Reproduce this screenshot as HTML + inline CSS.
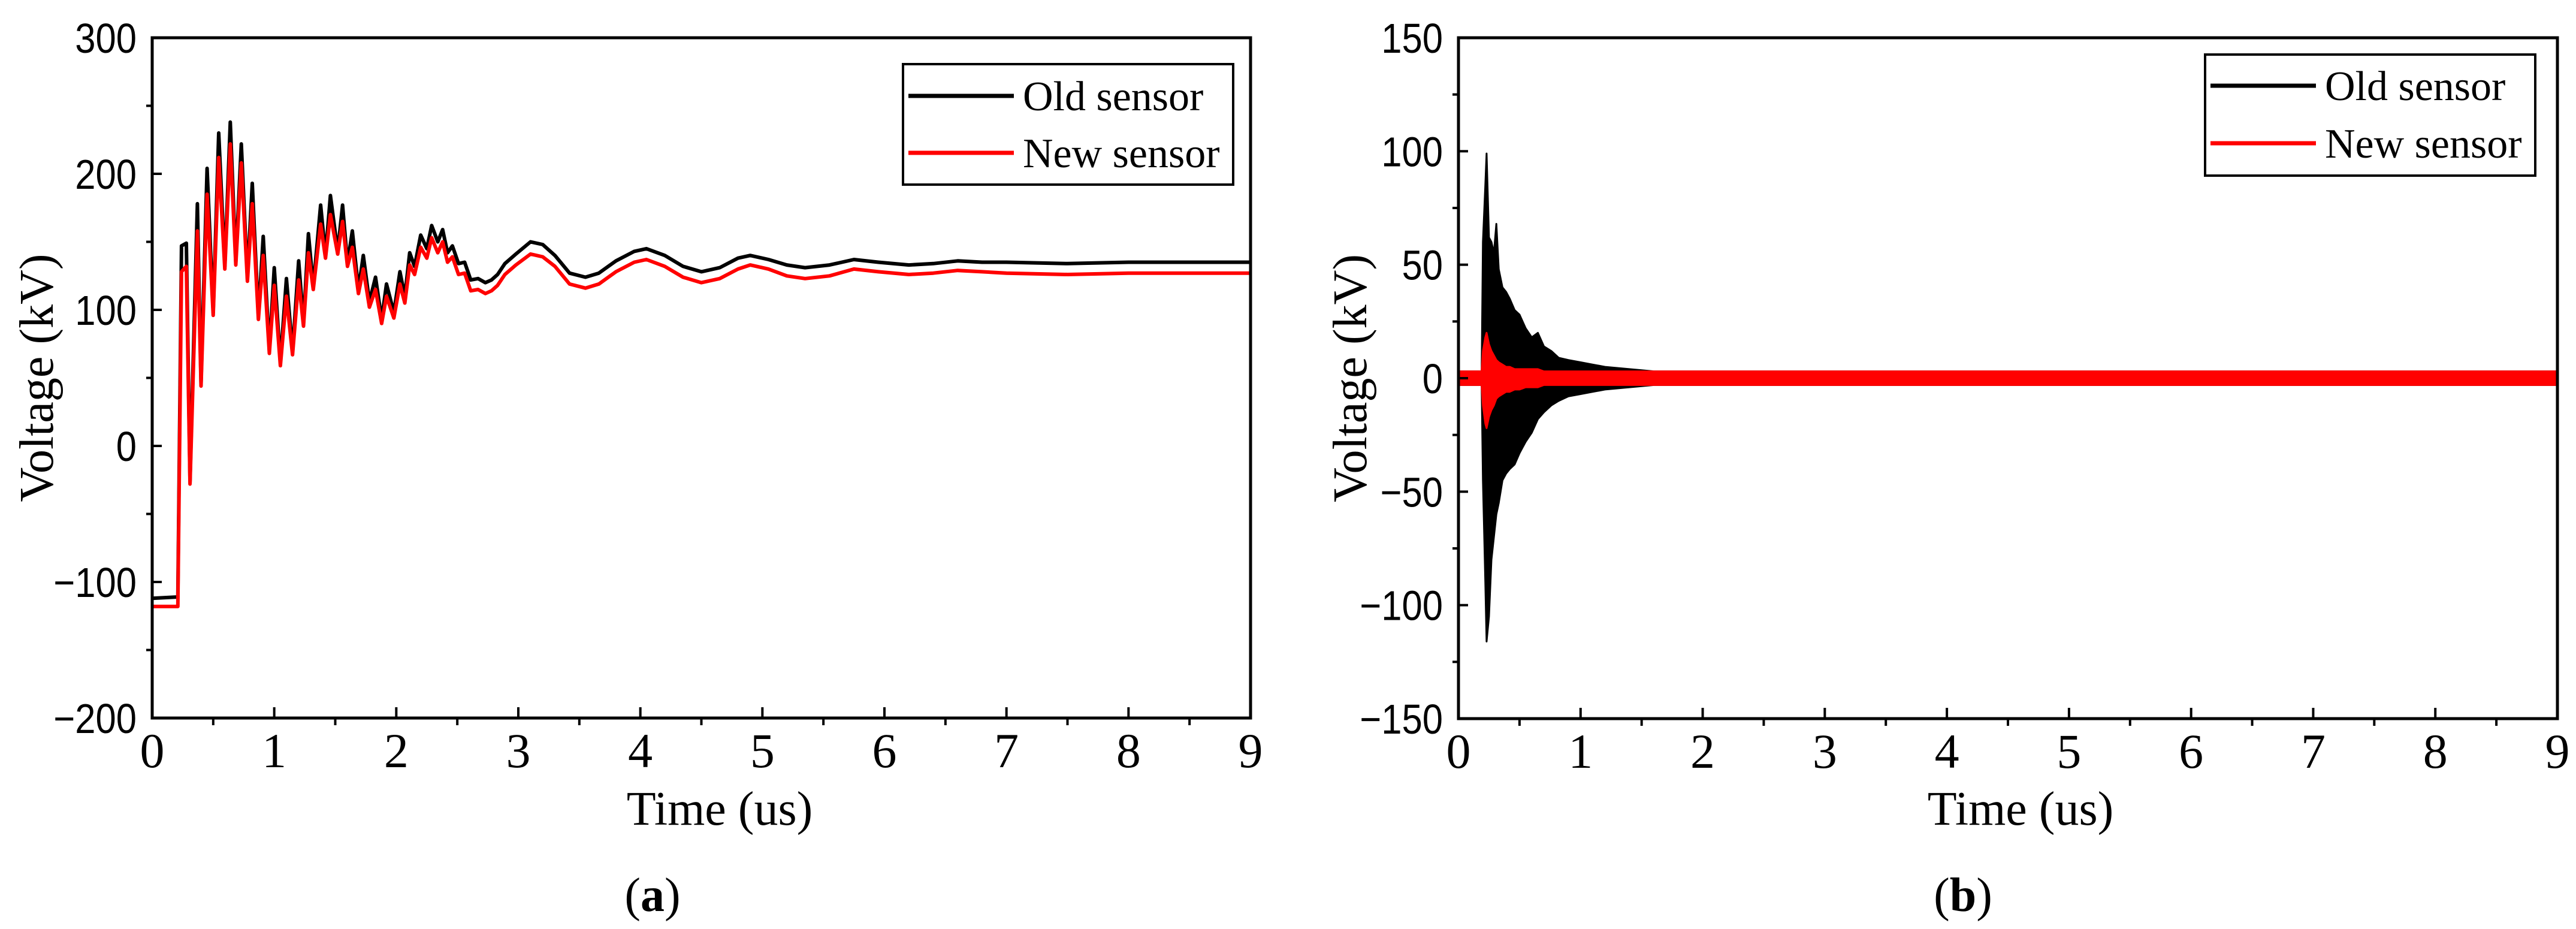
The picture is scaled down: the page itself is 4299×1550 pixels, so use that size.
<!DOCTYPE html>
<html><head><meta charset="utf-8"><style>
html,body{margin:0;padding:0;background:#fff;}
svg{display:block;}
.serif{font-family:"Liberation Serif",serif;}
.sans{font-family:"Liberation Sans",sans-serif;}
</style></head><body>
<svg id="fig" width="4299" height="1550" viewBox="0 0 4299 1550" xmlns="http://www.w3.org/2000/svg"></svg>
<script>
// ---- Panel (a) data ----
const timeA = [0,0.21,0.24,0.28,0.31,0.37,0.40,0.45,0.50,0.545,0.595,0.64,0.685,0.73,0.78,0.82,0.87,0.91,0.96,1.0,1.05,1.10,1.15,1.20,1.24,1.28,1.32,1.38,1.42,1.46,1.52,1.56,1.60,1.64,1.69,1.73,1.78,1.83,1.88,1.92,1.98,2.03,2.07,2.11,2.15,2.2,2.25,2.29,2.34,2.38,2.42,2.46,2.51,2.56,2.61,2.67,2.73,2.78,2.83,2.89,2.98,3.1,3.2,3.3,3.42,3.55,3.66,3.8,3.95,4.05,4.2,4.35,4.5,4.65,4.8,4.9,5.05,5.2,5.35,5.55,5.75,5.95,6.2,6.4,6.6,6.8,7.0,7.5,8.0,8.5,9.0];
const oldA = [-112,-111,147,149,-26,178,46,204,98,230,132,238,135,222,123,193,95,154,70,131,61,123,69,136,90,156,117,177,140,184,143,177,134,158,115,140,106,124,93,119,98,128,110,142,132,155,145,162,150,159,142,147,134,135,122,123,120,122,126,134,141,150,148,140,127,124,127,136,143,145,140,132,128,131,138,140,137,133,131,133,137,135,133,134,136,135,135,134,135,135,135];
const newA = [-118,-118,128,132,-28,158,44,185,96,212,130,222,133,208,121,178,93,140,68,118,59,110,67,122,88,142,115,163,138,170,141,165,132,146,112,130,102,115,90,110,94,119,105,133,126,146,138,153,142,150,135,139,126,127,114,115,112,114,118,126,133,141,139,132,119,116,119,128,135,137,132,124,120,123,130,133,130,125,123,125,130,128,126,127,129,128,127,126,127,127,127];
const xTicksA = [0,1,2,3,4,5,6,7,8,9];
const yTicksA = [-200,-100,0,100,200,300];
const yTickLabelsA = ["\u2212200","\u2212100","0","100","200","300"];

// ---- Panel (b) data (envelopes of the oscillation) ----
const timeB = [0,0.19,0.2,0.22,0.23,0.25,0.27,0.29,0.31,0.33,0.36,0.39,0.42,0.46,0.5,0.55,0.6,0.65,0.7,0.76,0.82,0.9,1.0,1.1,1.2,1.4,1.6,2,3,4,5,6,7,8,9];
const oldUpB = [3,3,60,85,99,62,60,55,68,48,40,38,35,30,28,22,18,20,14,12,9,8,7,6,5,4,3,3,3,3,3,3,3,3,3];
const oldLoB = [-3,-3,-45,-90,-116,-105,-80,-70,-60,-55,-45,-42,-40,-38,-33,-28,-24,-18,-15,-12,-10,-8,-7,-6,-5,-4,-3,-3,-3,-3,-3,-3,-3,-3,-3];
const newUpB = [3,3,12,18,20,15,12,10,8,7,6,5,5,4,4,4,4,4,3,3,3,3,3,3,3,3,3,3,3,3,3,3,3,3,3];
const newLoB = [-3,-3,-12,-20,-22,-17,-14,-12,-9,-8,-7,-6,-6,-5,-5,-4,-4,-4,-3,-3,-3,-3,-3,-3,-3,-3,-3,-3,-3,-3,-3,-3,-3,-3,-3];
const xTicksB = [0,1,2,3,4,5,6,7,8,9];
const yTicksB = [-150,-100,-50,0,50,100,150];
const yTickLabelsB = ["\u2212150","\u2212100","\u221250","0","50","100","150"];

const NS = "http://www.w3.org/2000/svg";
const svg = document.getElementById('fig');
function mk(tag, attrs, parent){
  const e = document.createElementNS(NS, tag);
  for (const k in attrs) e.setAttribute(k, attrs[k]);
  (parent||svg).appendChild(e);
  return e;
}

function panel(cfg){
  const g = mk('g', {});
  
  
  const X = t => cfg.L + (t - cfg.xmin) / (cfg.xmax - cfg.xmin) * (cfg.R - cfg.L);
  const Y = v => cfg.B - (v - cfg.ymin) / (cfg.ymax - cfg.ymin) * (cfg.B - cfg.T);
  cfg.draw(g, X, Y);
  const fr = mk('rect', {x:cfg.L, y:cfg.T, width:cfg.R-cfg.L, height:cfg.B-cfg.T, fill:'none', stroke:'#000', 'stroke-width':5}, g);
  
  
  cfg.xTicks.forEach((t, i) => {
    const x = X(t);
    const tk = mk('line', {x1:x, x2:x, y1:cfg.B, y2:cfg.B-18, stroke:'#000', 'stroke-width':4}, g);
    
    
    if (i < cfg.xTicks.length - 1) {
      const xm = X(t + 0.5);
      mk('line', {x1:xm, x2:xm, y1:cfg.B, y2:cfg.B+12, stroke:'#000', 'stroke-width':4}, g);
    }
    const lb = mk('text', {x:x, y:cfg.B+82, 'text-anchor':'middle', 'font-size':82, class:'serif'}, g);
    lb.textContent = String(t);
    
    
  });
  cfg.yTicks.forEach((v, i) => {
    const y = Y(v);
    const tk = mk('line', {x1:cfg.L, x2:cfg.L+16, y1:y, y2:y, stroke:'#000', 'stroke-width':4}, g);
    
    
    if (i < cfg.yTicks.length - 1) {
      const ym = Y(v + cfg.yStep/2);
      mk('line', {x1:cfg.L, x2:cfg.L-10, y1:ym, y2:ym, stroke:'#000', 'stroke-width':4}, g);
    }
    const lb = mk('text', {x:cfg.L-26, y:y+25, 'text-anchor':'end', 'font-size':70, class:'sans', transform:`translate(${cfg.L-26},0) scale(0.88,1) translate(${-(cfg.L-26)},0)`}, g);
    lb.textContent = cfg.yLabels[i];
    
    
  });
  const xt = mk('text', {x:cfg.xTitleX, y:1376, 'text-anchor':'middle', 'font-size':80, class:'serif'}, g);
  xt.textContent = 'Time (us)';
  
  
  const yt = mk('text', {x:0, y:0, 'text-anchor':'middle', 'font-size':80, class:'serif', transform:`translate(${cfg.yTitleX},${(cfg.T+cfg.B)/2}) rotate(-90)`}, g);
  yt.textContent = 'Voltage (kV)';
  
  
  const cp = mk('text', {x:cfg.capX, y:1520, 'text-anchor':'middle', 'font-size':80, class:'serif'}, g);
  cp.innerHTML = '(<tspan font-weight="bold">' + cfg.cap + '</tspan>)';
  
  
  const lg = mk('g', {}, g);
  
  
  const Lg = cfg.leg;
  mk('rect', {x:Lg.x, y:Lg.y, width:Lg.w, height:Lg.h, fill:'#fff', stroke:'#000', 'stroke-width':4}, lg);
  [['Old sensor','#000',Lg.y1],['New sensor','#ff0000',Lg.y2]].forEach(([txt,col,yy]) => {
    const en = mk('g', {}, lg);
    
    
    mk('line', {x1:Lg.x+9, x2:Lg.x+185, y1:yy, y2:yy, stroke:col, 'stroke-width':7}, en);
    const t = mk('text', {x:Lg.x+200, y:yy+24, 'font-size':70, class:'serif'}, en);
    t.textContent = txt;
  });
}

panel({
  name:'chart-a', L:254, R:2087, T:63, B:1198, xmin:0, xmax:9, ymin:-200, ymax:300, yStep:100,
  xTicks:xTicksA, yTicks:yTicksA, yLabels:yTickLabelsA, xTitleX:1201, yTitleX:88, capX:1089, cap:'a',
  leg:{x:1507, y:107, w:551, h:201, y1:160, y2:255},
  draw:(g, X, Y) => {
    const pts = (arr) => timeA.map((t,i) => X(t).toFixed(1)+','+Y(arr[i]).toFixed(1)).join(' ');
    const o = mk('polyline', {points:pts(oldA), fill:'none', stroke:'#000', 'stroke-width':6, 'stroke-linejoin':'round'}, g);
    
    
    const n = mk('polyline', {points:pts(newA), fill:'none', stroke:'#ff0000', 'stroke-width':6, 'stroke-linejoin':'round'}, g);
    
    
  }
});

panel({
  name:'chart-b', L:2434, R:4268, T:63, B:1199, xmin:0, xmax:9, ymin:-150, ymax:150, yStep:50,
  xTicks:xTicksB, yTicks:yTicksB, yLabels:yTickLabelsB, xTitleX:3372, yTitleX:2280, capX:3276, cap:'b',
  leg:{x:3680, y:91, w:551, h:202, y1:143, y2:239},
  draw:(g, X, Y) => {
    const band = (up, lo) => {
      const a = timeB.map((t,i) => X(t).toFixed(1)+','+Y(up[i]).toFixed(1));
      const b = timeB.map((t,i) => X(t).toFixed(1)+','+Y(lo[i]).toFixed(1)).reverse();
      return a.concat(b).join(' ');
    };
    const o = mk('polygon', {points:band(oldUpB, oldLoB), fill:'#000', stroke:'#000', 'stroke-width':3, 'stroke-linejoin':'round'}, g);
    
    
    const n = mk('polygon', {points:band(newUpB, newLoB), fill:'#ff0000', stroke:'#ff0000', 'stroke-width':3, 'stroke-linejoin':'round'}, g);
    
    
  }
});
</script>
</body></html>
